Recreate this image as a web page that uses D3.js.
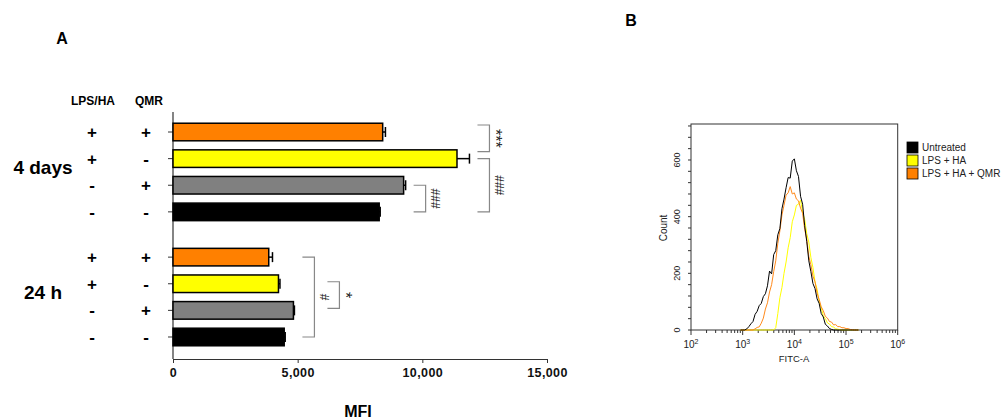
<!DOCTYPE html>
<html>
<head>
<meta charset="utf-8">
<script src="https://cdn.jsdelivr.net/npm/d3@7"></script>
<style>
  body { margin: 0; background: #fff; }
  svg { display: block; font-family: 'Liberation Sans', Arial, sans-serif; }
</style>
</head>
<body>
<div id="app"></div>
<script>
// panel A - MFI bars
const groups = ['4 days', '24 h'];
const lpsHa = ['+', '+', '-', '-'];
const qmr = ['+', '-', '+', '-'];
const barColors = ['#ff8000', '#ffff00', '#808080', '#000000'];
const mfi4days = [8410, 11390, 9250, 8270];
const sem4days = [110, 500, 80, 40];
const mfi24h = [3840, 4230, 4830, 4460];
const sem24h = [150, 60, 40, 40];
const mfiTicks = [0, 5000, 10000, 15000];

// significance marks
const sigMarks = [
  { group: '4 days', from: 0, to: 1, label: '***', level: 0, nudge: -7 },
  { group: '4 days', from: 1, to: 3, label: '###', level: 0, nudge: 0 },
  { group: '4 days', from: 2, to: 3, label: '###', level: 0, nudge: 0 },
  { group: '24 h', from: 0, to: 3, label: '#', level: 0, nudge: 0 },
  { group: '24 h', from: 1, to: 2, label: '*', level: 1, nudge: -2 }
];

// panel B - FITC-A histograms (log10 channel bins)
const fitcBins = d3.range(58).map(i => 2.96 + i * 0.04);
const histNames = ['Untreated', 'LPS + HA', 'LPS + HA + QMR'];
const histColors = ['#000000', '#ffff00', '#ff8000'];
const countUntreated = [0, 0, 0, 4, 12, 22, 30, 55, 66, 86, 94, 118, 128, 156, 208, 198, 266, 280, 336, 358,
  428, 462, 502, 538, 536, 596, 604, 562, 542, 472, 444, 368, 312, 244, 206, 164, 146, 110, 94, 58,
  46, 20, 14, 5, 2, 0, 0, 0, 0, 0, 0, 0, 0, 0, 0, 0, 0, 0];
const countLpsHa = [0, 0, 0, 0, 0, 0, 0, 0, 0, 0, 0, 0, 0, 0, 0, 0, 0, 8, 58, 114,
  150, 200, 240, 290, 326, 382, 406, 440, 444, 458, 416, 390, 340, 310, 256, 220, 170, 144, 100, 78,
  50, 40, 25, 21, 12, 10, 4, 3, 1, 0, 0, 0, 0, 0, 0, 0, 0, 0];
const countLpsHaQmr = [0, 0, 0, 0, 0, 0, 0, 4, 9, 11, 24, 42, 74, 96, 134, 160, 206, 244, 306, 350,
  406, 440, 476, 484, 506, 480, 484, 462, 456, 430, 412, 356, 320, 260, 230, 190, 170, 130, 108, 82,
  68, 48, 42, 30, 28, 18, 19, 12, 12, 8, 8, 5, 5, 2, 1, 0, 0, 0];
const countTicks = [0, 200, 400, 600];

const svg = d3.select('#app').append('svg')
  .attr('width', 1003)
  .attr('height', 419);

// ---------- panel A ----------
const rows = [];
groups.forEach((g, gi) => {
  const vals = gi === 0 ? mfi4days : mfi24h;
  const errs = gi === 0 ? sem4days : sem24h;
  vals.forEach((v, i) => rows.push({ group: g, idx: i, value: v, err: errs[i] }));
});

const x = d3.scaleLinear().domain([0, 15000]).range([173, 547]);
const yGroup = d3.scaleBand().domain(groups).range([118.7, 350.3]).paddingInner(0.149);
const yRow = d3.scaleBand().domain(d3.range(4)).range([0, yGroup.bandwidth()])
  .paddingInner(0.34).paddingOuter(0.17);
const rowTop = (g, i) => yGroup(g) + yRow(i);
const rowMid = (g, i) => rowTop(g, i) + yRow.bandwidth() / 2;

const gA = svg.append('g');

gA.append('text').attr('x', 62).attr('y', 38).attr('text-anchor', 'middle')
  .attr('dy', '0.35em').style('font-size', '16px').style('font-weight', 'bold').text('A');

gA.append('text').attr('x', 93).attr('y', 101).attr('text-anchor', 'middle').attr('dy', '0.35em')
  .style('font-size', '12px').style('font-weight', 'bold').text('LPS/HA');
gA.append('text').attr('x', 149).attr('y', 101).attr('text-anchor', 'middle').attr('dy', '0.35em')
  .style('font-size', '12px').style('font-weight', 'bold').text('QMR');

// +/- columns
rows.forEach(r => {
  [[92, lpsHa[r.idx]], [146, qmr[r.idx]]].forEach(([cx, s]) => {
    gA.append('text').attr('x', cx).attr('y', rowMid(r.group, r.idx))
      .attr('text-anchor', 'middle').attr('dy', '0.35em')
      .style('font-size', '17px').style('font-weight', 'bold').text(s);
  });
});

// group labels
groups.forEach(g => {
  gA.append('text')
    .attr('x', 43)
    .attr('y', yGroup(g) + yGroup.bandwidth() / 2 - 5)
    .attr('text-anchor', 'middle').attr('dy', '0.35em')
    .style('font-size', '19px').style('font-weight', 'bold').text(g);
});

// axes
gA.append('line').attr('x1', 173).attr('x2', 173).attr('y1', 112).attr('y2', 359)
  .attr('stroke', '#333').attr('stroke-width', 1.2);
rows.forEach(r => {
  gA.append('line').attr('x1', 168).attr('x2', 173)
    .attr('y1', rowMid(r.group, r.idx)).attr('y2', rowMid(r.group, r.idx))
    .attr('stroke', '#333');
});

const xAxis = gA.append('g')
  .attr('transform', 'translate(0,359)')
  .call(d3.axisBottom(x).tickValues(mfiTicks).tickFormat(d3.format(',')).tickSize(4).tickSizeOuter(0));
xAxis.select('.domain').attr('stroke', '#333').attr('stroke-width', 1.2);
xAxis.selectAll('.tick line').attr('stroke', '#333');
xAxis.selectAll('.tick text')
  .attr('y', 9)
  .style('font-size', '12.5px').style('font-weight', 'bold')
  .style('font-family', "'Liberation Sans', Arial, sans-serif")
  .style('letter-spacing', '0.4px')
  .attr('fill', '#111');

gA.append('text').attr('x', 358).attr('y', 411).attr('text-anchor', 'middle').attr('dy', '0.35em')
  .style('font-size', '16px').style('font-weight', 'bold').text('MFI');

// bars
gA.selectAll('.bar')
  .data(rows)
  .enter()
  .append('rect')
  .attr('class', 'bar')
  .attr('x', x(0))
  .attr('y', d => rowTop(d.group, d.idx))
  .attr('width', d => x(d.value) - x(0))
  .attr('height', yRow.bandwidth())
  .attr('fill', d => barColors[d.idx])
  .attr('stroke', '#000')
  .attr('stroke-width', 1.5);

// error bars (positive side)
rows.forEach(d => {
  const m = rowMid(d.group, d.idx);
  gA.append('line').attr('x1', x(d.value)).attr('x2', x(d.value + d.err))
    .attr('y1', m).attr('y2', m).attr('stroke', '#000').attr('stroke-width', 1.5);
  gA.append('line').attr('x1', x(d.value + d.err)).attr('x2', x(d.value + d.err))
    .attr('y1', m - 5).attr('y2', m + 5).attr('stroke', '#000').attr('stroke-width', 1.5);
});

// brackets
sigMarks.forEach(s => {
  const inRange = rows.filter(r => r.group === s.group && r.idx >= s.from && r.idx <= s.to);
  const bx = d3.max(inRange, r => x(r.value + r.err)) + 20 + s.level * 25;
  const y1 = rowMid(s.group, s.from) + s.nudge;
  const y2 = rowMid(s.group, s.to) + s.nudge;
  const isStar = s.label.startsWith('*');
  gA.append('path')
    .attr('d', `M${bx - 12},${y1}H${bx}V${y2}H${bx - 12}`)
    .attr('fill', 'none').attr('stroke', '#888').attr('stroke-width', 1.2);
  gA.append('text')
    .attr('transform', `translate(${bx + 10},${(y1 + y2) / 2}) rotate(90)`)
    .attr('text-anchor', 'middle').attr('dy', isStar ? '0.62em' : '0.35em')
    .style('font-size', isStar ? '16px' : '12px').attr('fill', '#222').text(s.label);
});

// ---------- panel B ----------
const gB = svg.append('g');
gB.append('text').attr('x', 631).attr('y', 20).attr('text-anchor', 'middle').attr('dy', '0.35em')
  .style('font-size', '16px').style('font-weight', 'bold').text('B');

const xB = d3.scaleLog().domain([1e2, 1e6]).range([691, 897.7]);
const yB = d3.scaleLinear().domain([0, 727]).range([330, 124]);

gB.append('rect').attr('x', 691).attr('y', 124).attr('width', 206.7).attr('height', 206)
  .attr('fill', 'none').attr('stroke', '#333').attr('stroke-width', 1);

// y ticks
d3.range(0, 721, 40).forEach(v => {
  gB.append('line').attr('x1', 688).attr('x2', 691).attr('y1', yB(v)).attr('y2', yB(v))
    .attr('stroke', '#333');
});
countTicks.forEach(v => {
  gB.append('text')
    .attr('transform', `translate(677,${yB(v)}) rotate(-90)`)
    .attr('text-anchor', 'middle').attr('dy', '0.35em')
    .style('font-size', '9px').attr('fill', '#222').text(v);
});
gB.append('text')
  .attr('transform', `translate(663,228) rotate(-90)`)
  .attr('text-anchor', 'middle').attr('dy', '0.35em')
  .style('font-size', '10px').attr('fill', '#222').text('Count');

// x ticks (log)
[2, 3, 4, 5].forEach(k => {
  d3.range(2, 10).forEach(m => {
    const v = m * Math.pow(10, k);
    gB.append('line').attr('x1', xB(v)).attr('x2', xB(v)).attr('y1', 330).attr('y2', 333)
      .attr('stroke', '#333');
  });
});
[2, 3, 4, 5, 6].forEach(k => {
  const px = xB(Math.pow(10, k));
  gB.append('line').attr('x1', px).attr('x2', px).attr('y1', 330).attr('y2', 335)
    .attr('stroke', '#333');
  const t = gB.append('text').attr('x', px).attr('y', 348).attr('text-anchor', 'middle')
    .style('font-size', '10px').attr('fill', '#222');
  t.append('tspan').text('10');
  t.append('tspan').attr('dy', -4).style('font-size', '7px').text(k);
});
gB.append('text').attr('x', 794).attr('y', 359).attr('text-anchor', 'middle').attr('dy', '0.35em')
  .style('font-size', '9.5px').attr('fill', '#222').text('FITC-A');

// histogram lines
const histLine = d3.line()
  .x((d, i) => xB(Math.pow(10, fitcBins[i])))
  .y(d => yB(d));

[[countLpsHa, histColors[1]], [countLpsHaQmr, '#ff8a1c'], [countUntreated, histColors[0]]]
  .forEach(([series, color]) => {
    gB.append('path')
      .datum(series)
      .attr('d', histLine)
      .attr('fill', 'none')
      .attr('stroke', color)
      .attr('stroke-width', 1);
  });

// legend
histNames.forEach((name, i) => {
  const ly = 142 + i * 13;
  gB.append('rect').attr('x', 907).attr('y', ly).attr('width', 11).attr('height', 11)
    .attr('fill', histColors[i]).attr('stroke', '#000').attr('stroke-width', 0.8);
  gB.append('text').attr('x', 922).attr('y', ly + 5.5).attr('dy', '0.35em')
    .style('font-size', '10px').attr('fill', '#222').text(name);
});
</script>
</body>
</html>
